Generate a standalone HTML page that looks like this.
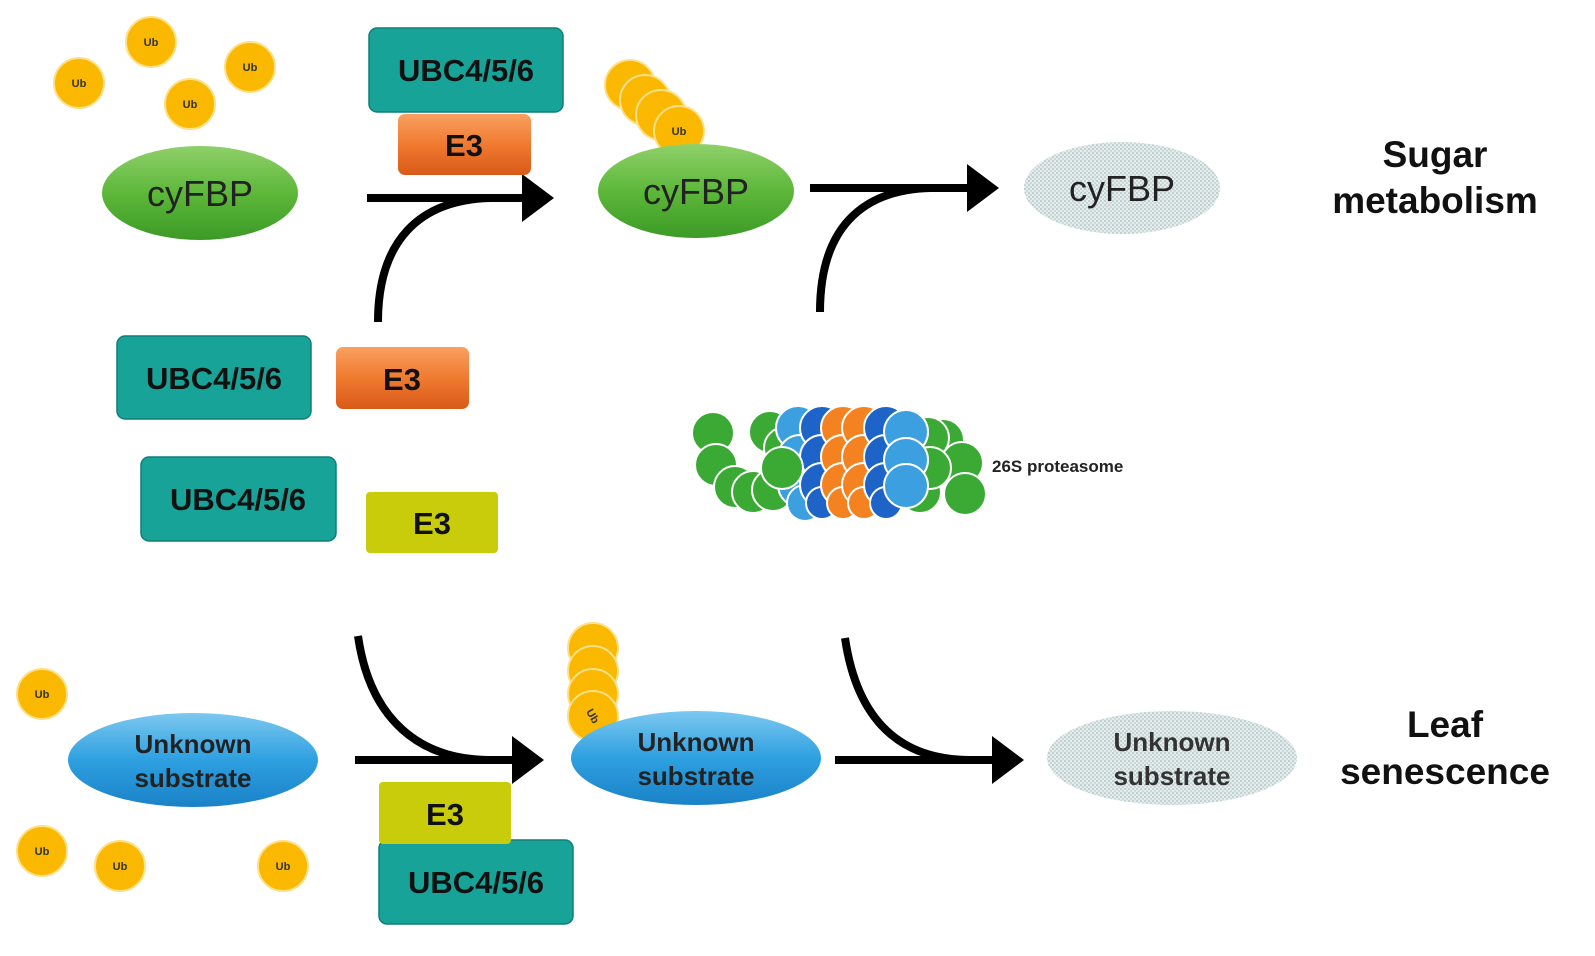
<!DOCTYPE html>
<html><head><style>body{margin:0;background:#fff}svg{display:block}text{font-family:"Liberation Sans",Arial,sans-serif}</style></head><body>
<svg width="1595" height="956" viewBox="0 0 1595 956" xmlns="http://www.w3.org/2000/svg">
<defs>
<linearGradient id="g" x1="0" y1="0" x2="0" y2="1"><stop offset="0" stop-color="#8fd06a"/><stop offset="0.5" stop-color="#5db83a"/><stop offset="1" stop-color="#3c9a26"/></linearGradient>
<linearGradient id="b" x1="0" y1="0" x2="0" y2="1"><stop offset="0" stop-color="#7cc8f0"/><stop offset="0.5" stop-color="#2ea0e0"/><stop offset="1" stop-color="#1a82c8"/></linearGradient>
<linearGradient id="o" x1="0" y1="0" x2="0" y2="1"><stop offset="0" stop-color="#f9a060"/><stop offset="0.5" stop-color="#f07a30"/><stop offset="1" stop-color="#d85a18"/></linearGradient>
<pattern id="d" width="4" height="4" patternUnits="userSpaceOnUse"><rect width="4" height="4" fill="#e4ecec"/><circle cx="1" cy="1" r="0.9" fill="#a8bcbc"/><circle cx="3" cy="3" r="0.9" fill="#b8caca"/></pattern>
<marker id="ah" markerWidth="6" markerHeight="6" refX="1" refY="3" orient="auto" markerUnits="strokeWidth"><path d="M0,0 L4,3 L0,6 Z" fill="#000"/></marker>
</defs>
<g fill="#fbb800" stroke="#fde08a" stroke-width="2">
<circle cx="151" cy="42" r="25"/><circle cx="79" cy="83" r="25"/><circle cx="190" cy="104" r="25"/><circle cx="250" cy="67" r="25"/>
<circle cx="630" cy="85" r="25"/><circle cx="645" cy="100" r="25"/><circle cx="661" cy="115" r="25"/><circle cx="679" cy="131" r="25"/>
<circle cx="42" cy="694" r="25"/><circle cx="42" cy="851" r="25"/><circle cx="120" cy="866" r="25"/><circle cx="283" cy="866" r="25"/>
<circle cx="593" cy="648" r="25"/><circle cx="593" cy="671" r="25"/><circle cx="593" cy="694" r="25"/><circle cx="593" cy="716" r="25"/>
</g>
<g font-size="11" font-weight="bold" fill="#333" text-anchor="middle">
<text x="151" y="46">Ub</text><text x="79" y="87">Ub</text><text x="190" y="108">Ub</text><text x="250" y="71">Ub</text><text x="679" y="135">Ub</text>
<text x="42" y="698">Ub</text><text x="42" y="855">Ub</text><text x="120" y="870">Ub</text><text x="283" y="870">Ub</text><text x="593" y="720" transform="rotate(60 593 716)">Ub</text>
</g>
<g stroke="#000" stroke-width="8" fill="none">
<path d="M367,198 L530,198" marker-end="url(#ah)"/>
<path d="M378,322 C378,240 420,200 490,198"/>
<path d="M810,188 L975,188" marker-end="url(#ah)"/>
<path d="M820,312 C820,230 860,190 930,188"/>
<path d="M355,760 L520,760" marker-end="url(#ah)"/>
<path d="M358,636 C370,720 420,760 490,760"/>
<path d="M835,760 L1000,760" marker-end="url(#ah)"/>
<path d="M845,638 C857,720 900,760 970,760"/>
</g>
<ellipse cx="200" cy="193" rx="98" ry="47" fill="url(#g)"/>
<ellipse cx="696" cy="191" rx="98" ry="47" fill="url(#g)"/>
<ellipse cx="1122" cy="188" rx="98" ry="46" fill="url(#d)"/>
<g font-size="36" fill="#222" text-anchor="middle"><text x="200" y="206">cyFBP</text><text x="696" y="204">cyFBP</text><text x="1122" y="201">cyFBP</text></g>
<ellipse cx="193" cy="760" rx="125" ry="47" fill="url(#b)"/>
<ellipse cx="696" cy="758" rx="125" ry="47" fill="url(#b)"/>
<ellipse cx="1172" cy="758" rx="125" ry="47" fill="url(#d)"/>
<g font-size="26" font-weight="bold" fill="#222" text-anchor="middle">
<text x="193" y="753">Unknown</text><text x="193" y="787">substrate</text>
<text x="696" y="751">Unknown</text><text x="696" y="785">substrate</text>
<text x="1172" y="751" fill="#333">Unknown</text><text x="1172" y="785" fill="#333">substrate</text>
</g>
<g fill="#17a398" stroke="#0f7f78" stroke-width="1.5">
<rect x="369" y="28" width="194" height="84" rx="8"/>
<rect x="117" y="336" width="194" height="83" rx="8"/>
<rect x="141" y="457" width="195" height="84" rx="8"/>
<rect x="379" y="840" width="194" height="84" rx="8"/>
</g>
<rect x="398" y="114" width="133" height="61" rx="7" fill="url(#o)"/>
<rect x="336" y="347" width="133" height="62" rx="7" fill="url(#o)"/>
<rect x="366" y="492" width="132" height="61" rx="4" fill="#c8cc0a"/>
<rect x="379" y="782" width="132" height="62" rx="4" fill="#c8cc0a"/>
<g font-size="31" font-weight="bold" fill="#111" text-anchor="middle">
<text x="466" y="81">UBC4/5/6</text><text x="214" y="389">UBC4/5/6</text><text x="238" y="510">UBC4/5/6</text><text x="476" y="893">UBC4/5/6</text>
<text x="464" y="156">E3</text><text x="402" y="390">E3</text><text x="432" y="534">E3</text><text x="445" y="825">E3</text>
</g>
<g stroke="#fff" stroke-width="2">
<g fill="#3aaa35">
<circle cx="713" cy="433" r="21"/><circle cx="716" cy="465" r="21"/><circle cx="735" cy="487" r="21"/><circle cx="753" cy="492" r="21"/><circle cx="773" cy="490" r="21"/>
<circle cx="770" cy="432" r="21"/><circle cx="785" cy="448" r="21"/>
<circle cx="943" cy="440" r="21"/><circle cx="928" cy="438" r="21"/><circle cx="962" cy="463" r="21"/><circle cx="965" cy="494" r="21"/><circle cx="920" cy="492" r="21"/><circle cx="930" cy="468" r="21"/>
</g>
<g fill="#3b9fe0"><circle cx="798" cy="428" r="22"/><circle cx="800" cy="457" r="22"/><circle cx="800" cy="485" r="22"/><circle cx="805" cy="503" r="18"/></g>
<g fill="#1d63c8"><circle cx="822" cy="428" r="22"/><circle cx="822" cy="457" r="22"/><circle cx="822" cy="485" r="22"/><circle cx="822" cy="503" r="16"/></g>
<g fill="#f58220"><circle cx="843" cy="428" r="22"/><circle cx="843" cy="457" r="22"/><circle cx="843" cy="485" r="22"/><circle cx="843" cy="503" r="16"/><circle cx="864" cy="428" r="22"/><circle cx="864" cy="457" r="22"/><circle cx="864" cy="485" r="22"/><circle cx="864" cy="503" r="16"/></g>
<g fill="#1d63c8"><circle cx="886" cy="428" r="22"/><circle cx="886" cy="457" r="22"/><circle cx="886" cy="485" r="22"/><circle cx="886" cy="503" r="16"/></g>
<g fill="#3b9fe0"><circle cx="906" cy="432" r="22"/><circle cx="906" cy="460" r="22"/><circle cx="906" cy="486" r="22"/></g>
<g fill="#3aaa35"><circle cx="782" cy="468" r="21"/></g>
</g>
<text x="992" y="472" font-size="17" font-weight="bold" fill="#222">26S proteasome</text>
<g font-size="37" font-weight="bold" fill="#111" text-anchor="middle">
<text x="1435" y="167">Sugar</text><text x="1435" y="213">metabolism</text>
<text x="1445" y="737">Leaf</text><text x="1445" y="784">senescence</text>
</g>
</svg>
</body></html>
